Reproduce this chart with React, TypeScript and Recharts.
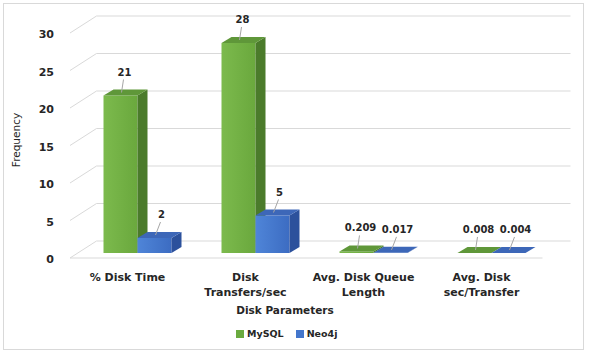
import React from "react";
import { BarChart, Bar, XAxis, YAxis, CartesianGrid, LabelList } from "recharts";

const categories = ["% Disk Time", "Disk Transfers/sec", "Avg. Disk Queue Length", "Avg. Disk sec/Transfer"];
const categoryLines: Record<string, string[]> = {
  "% Disk Time": ["% Disk Time"],
  "Disk Transfers/sec": ["Disk", "Transfers/sec"],
  "Avg. Disk Queue Length": ["Avg. Disk Queue", "Length"],
  "Avg. Disk sec/Transfer": ["Avg. Disk", "sec/Transfer"],
};
const mysqlValues = [21, 28, 0.209, 0.008];
const neo4jValues = [2, 5, 0.017, 0.004];
const yTicks = [0, 5, 10, 15, 20, 25, 30];
const seriesNames = ["MySQL", "Neo4j"];

const data = categories.map((c, i) => ({ name: c, MySQL: mysqlValues[i], Neo4j: neo4jValues[i] }));

const W = 589;
const H = 354;
const YAXIS_W = 40;
const XAXIS_H = 40;
const M = { top: 28, right: 38.5, bottom: 101 - XAXIS_H, left: 78.5 - YAXIS_W };
const PLOT_BOTTOM = H - 101;
const DX = 10;
const DY = 6;
const FONT = "'DejaVu Sans', Verdana, sans-serif";
const TEXT = "#262626";
const GRID = "#d9d9d9";

const palette: Record<string, { front: string; side: string; top: string; legend: string; labelShift: number }> = {
  MySQL: { front: "url(#gGreen)", side: "#4b7b2b", top: "#5f9739", legend: "#6aaa3f", labelShift: 4 },
  Neo4j: { front: "url(#gBlue)", side: "#2c519c", top: "#3d67b8", legend: "#4376cc", labelShift: 7 },
};

const make3D = (name: string) => (props: any) => {
  const { x, y, width, height } = props;
  const c = palette[name];
  const h = Math.max(0, height);
  const top = `${x},${y} ${x + DX},${y - DY} ${x + width + DX},${y - DY} ${x + width},${y}`;
  const side = `${x + width},${y} ${x + width + DX},${y - DY} ${x + width + DX},${y + h - DY} ${x + width},${y + h}`;
  return (
    <g>
      {h > 0 && <rect x={x} y={y} width={width} height={h} fill={c.front} />}
      {h > 0 && <polygon points={side} fill={c.side} />}
      <polygon points={top} fill={c.top} />
    </g>
  );
};

const makeLabel = (name: string) => (props: any) => {
  const { x, y, width, value } = props;
  const cx = Number(x) + Number(width) / 2;
  const ty = Number(y);
  const s = palette[name].labelShift;
  return (
    <g>
      <line x1={cx + s - 1} y1={ty - 16} x2={cx + 1} y2={ty - 3} stroke="#a6a6a6" strokeWidth={1} />
      <text x={cx + s} y={ty - 20} textAnchor="middle" fontFamily={FONT} fontWeight="bold" fontSize={10} fill={TEXT}>
        {value}
      </text>
    </g>
  );
};

const gridLine = (props: any) => {
  const { x1, x2, y1 } = props;
  const back = y1 - 12;
  const front = y1 + 5;
  const isFloor = Math.abs(y1 - PLOT_BOTTOM) < 1;
  return (
    <g key={`g-${y1}`}>
      <line x1={x1 - 8.5} y1={front} x2={x1 + 18} y2={back} stroke={GRID} strokeWidth={1} />
      <line x1={x1 + 18} y1={back} x2={x2 + 20} y2={back} stroke={GRID} strokeWidth={1} />
      {isFloor && <line x1={x1 - 8.5} y1={front} x2={x2 - 8} y2={front} stroke={GRID} strokeWidth={1} />}
    </g>
  );
};

const YTick = (props: any) => {
  const { y, payload } = props;
  return (
    <text x={54} y={Number(y) + 10} textAnchor="end" fontFamily={FONT} fontWeight="bold" fontSize={11} fill={TEXT}>
      {payload.value}
    </text>
  );
};

const XTick = (props: any) => {
  const { x, payload } = props;
  const lines = categoryLines[payload.value] || [payload.value];
  return (
    <g>
      {lines.map((l, i) => (
        <text key={i} x={Number(x) - 10} y={PLOT_BOTTOM + 28 + i * 15} textAnchor="middle" fontFamily={FONT} fontWeight="bold" fontSize={11} fill={TEXT}>
          {l}
        </text>
      ))}
    </g>
  );
};

export default function App() {
  return (
    <div style={{ position: "absolute", left: 0, top: 0, width: W, height: H, background: "#ffffff" }}>
      <div style={{ position: "absolute", left: 3, top: 3, width: 579, height: 345, border: "1px solid #d9d9d9" }} />
      <div style={{ position: "absolute", left: 0, top: 0 }}>
        <BarChart width={W} height={H} data={data} margin={M} barGap={0} barSize={34}>
          <defs>
            <linearGradient id="gGreen" x1="0" y1="0" x2="1" y2="0">
              <stop offset="0%" stopColor="#7cba4d" />
              <stop offset="100%" stopColor="#6aa83d" />
            </linearGradient>
            <linearGradient id="gBlue" x1="0" y1="0" x2="1" y2="0">
              <stop offset="0%" stopColor="#4f85d8" />
              <stop offset="100%" stopColor="#3c6cc2" />
            </linearGradient>
          </defs>
          <CartesianGrid vertical={false} horizontal={gridLine} />
          <XAxis dataKey="name" axisLine={false} tickLine={false} height={XAXIS_H} tick={XTick} interval={0} />
          <YAxis domain={[0, 30]} ticks={yTicks} width={YAXIS_W} axisLine={false} tickLine={false} tick={YTick} />
          {seriesNames.map((s) => (
            <Bar key={s} dataKey={s} isAnimationActive={false} shape={make3D(s)}>
              <LabelList dataKey={s} content={makeLabel(s)} />
            </Bar>
          ))}
        </BarChart>
      </div>
      <div style={{ position: "absolute", left: 16, top: 140, fontFamily: FONT, fontSize: 10.5, color: TEXT }}>
        <div style={{ position: "absolute", left: 0, top: 0, transform: "translate(-50%, -50%) rotate(-90deg)", whiteSpace: "nowrap" }}>
          Frequency
        </div>
      </div>
      <div style={{ position: "absolute", left: 285, top: 304, fontFamily: FONT, fontWeight: "bold", fontSize: 10.5, color: TEXT }}>
        <span style={{ position: "absolute", left: 0, transform: "translateX(-50%)", whiteSpace: "nowrap" }}>Disk Parameters</span>
      </div>
      <div style={{ position: "absolute", top: 328, left: 236, display: "flex", alignItems: "center", fontFamily: FONT, fontWeight: "bold", fontSize: 9.5, color: TEXT }}>
        {seriesNames.map((s, i) => (
          <div key={s} style={{ display: "flex", alignItems: "center", marginRight: i === 0 ? 12 : 0 }}>
            <span style={{ display: "inline-block", width: 8, height: 8, background: palette[s].legend, marginRight: 3 }} />
            <span>{s}</span>
          </div>
        ))}
      </div>
    </div>
  );
}
